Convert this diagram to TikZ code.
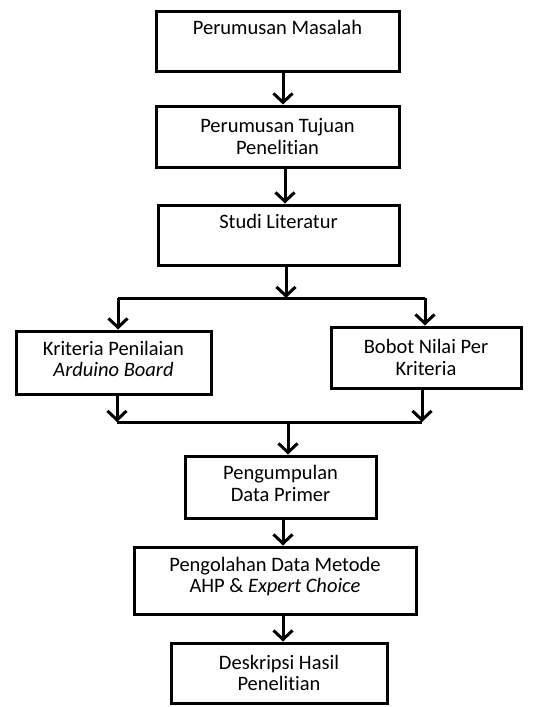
\documentclass[tikz,border=0pt]{standalone}
\usepackage{fontspec}
\setmainfont[Ligatures=NoCommon]{Carlito}
\usetikzlibrary{arrows.meta}
\begin{document}
\begin{tikzpicture}[x=1pt, y=-1pt, line width=3pt,
    box/.style = {draw, rectangle, align=center, inner sep=0pt,
                  font=\fontsize{20.5}{21.5}\selectfont},
    arr/.style = {-{Straight Barb[length=9pt,width=19pt]}}]
    \useasboundingbox (0,0) rectangle (549,707);
    % kotak utama
    \node[box, minimum width=243pt, minimum height=60pt] (masalah) at (277.5,41) {Perumusan Masalah\\ \strut};
    \node[box, minimum width=243pt, minimum height=61pt] (tujuan) at (277.5,136.5) {Perumusan Tujuan\\Penelitian};
    \node[box, minimum width=241pt, minimum height=60pt] (studi) at (278.5,235) {Studi Literatur\\ \strut};
    \node[box, minimum width=195pt, minimum height=63pt] (kriteria) at (113.5,362.5) {Kriteria Penilaian\\\textit{Arduino Board}\\[-21pt]\strut};
    \node[box, minimum width=190pt, minimum height=61pt] (bobot) at (426,357.5) {Bobot Nilai Per\\Kriteria};
    \node[box, minimum width=191pt, minimum height=62pt] (data) at (280.5,487) {Pengumpulan\\Data Primer\\[-21pt]\strut};
    \node[box, minimum width=282pt, minimum height=67pt] (olah) at (275,580.5) {Pengolahan Data Metode\\AHP \& \textit{Expert Choice}\\[-17pt]\strut};
    \node[box, minimum width=216pt, minimum height=60pt] (hasil) at (279,673) {Deskripsi Hasil\\Penelitian};
    % titik bantu
    \coordinate (ax1) at (283,0);
    \coordinate (ax2) at (285,0);
    \coordinate (split) at (286,298);
    \coordinate (splitL) at (118,298);
    \coordinate (splitR) at (425,298);
    \coordinate (joinL) at (117,422);
    \coordinate (joinR) at (422,422);
    \coordinate (join) at (288,422);
    % panah
    \draw[arr] (masalah.south -| ax1) -- (tujuan.north -| ax1);
    \draw[arr] (tujuan.south -| ax2) -- (studi.north -| ax2);
    \draw[arr] (studi.south -| split) -- (split);
    \draw (splitL) -- (splitR);
    \draw[arr] (splitL) -- (kriteria.north -| splitL);
    \draw[arr] (splitR) -- (bobot.north -| splitR);
    \draw[arr] (kriteria.south -| joinL) -- (joinL);
    \draw[arr] (bobot.south -| joinR) -- (joinR);
    \draw (joinL) -- (joinR);
    \draw[arr] (join) -- (data.north -| join);
    \draw[arr] (data.south -| ax1) -- (olah.north -| ax1);
    \draw[arr] (olah.south -| ax1) -- (hasil.north -| ax1);
\end{tikzpicture}
\end{document}
